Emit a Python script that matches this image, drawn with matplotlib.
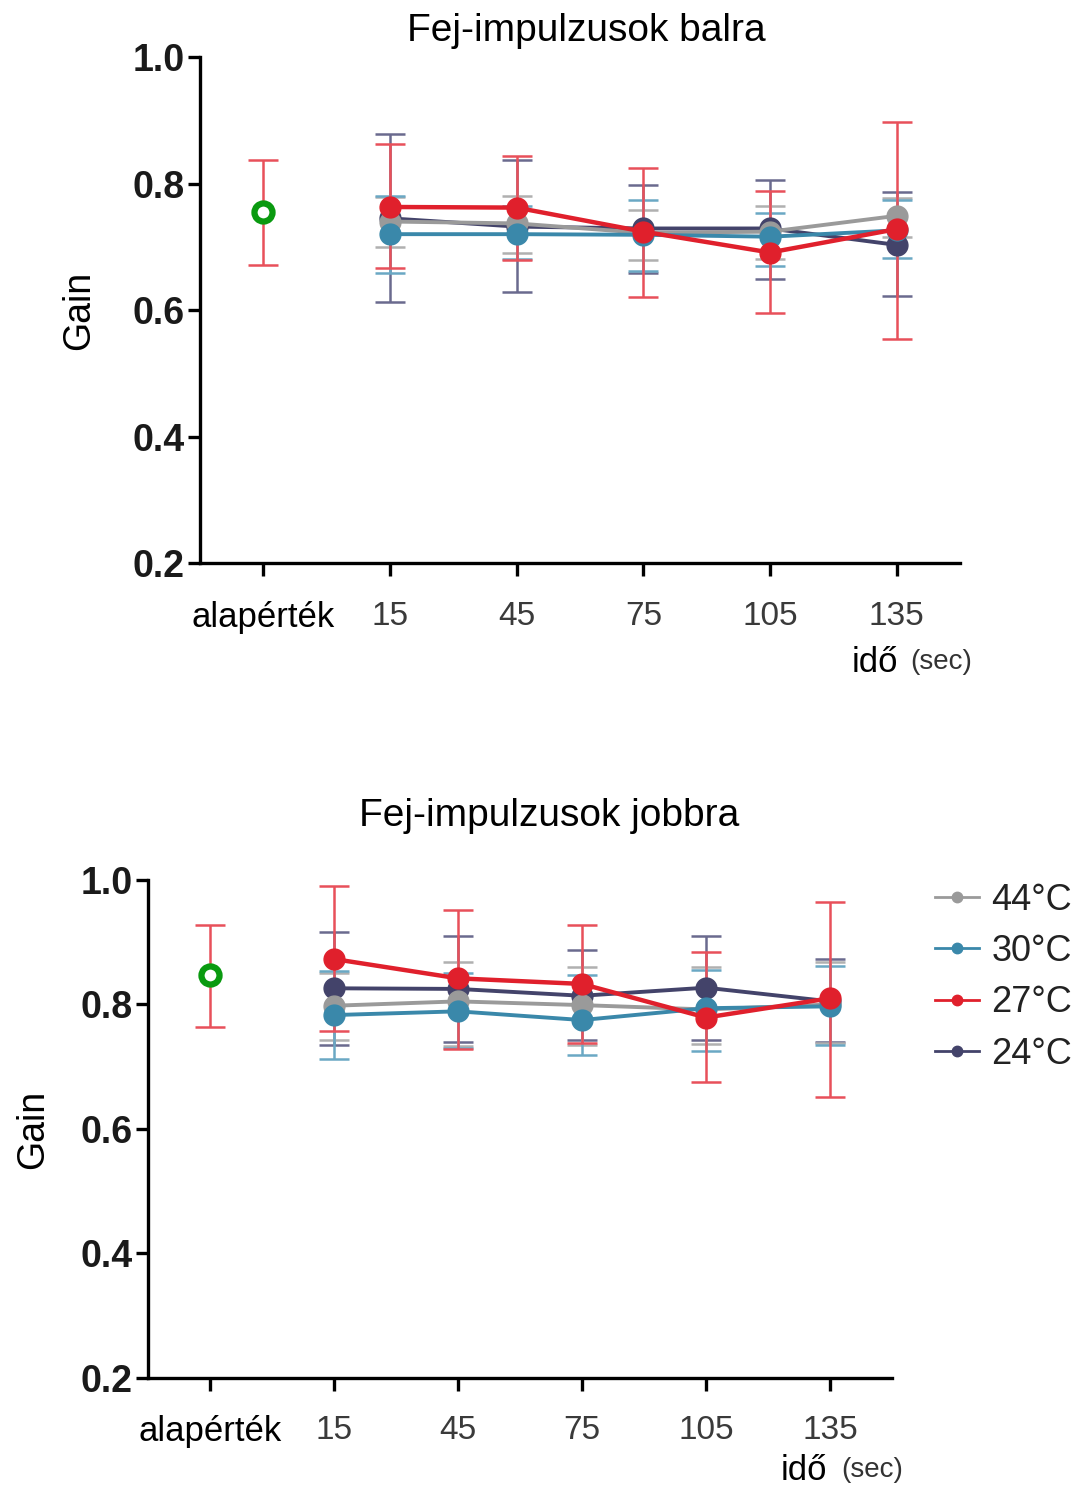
#Gain of head impulses, left and right, at different temperatures

import numpy as np
import matplotlib
matplotlib.use('Agg')
import matplotlib.pyplot as plt

plt.rcParams['font.family'] = ['Liberation Sans', 'DejaVu Sans']

#Data

xlabels = ['alapérték', '15', '45', '75', '105', '135']
temps = ['44°C', '30°C', '27°C', '24°C']

base_top = 0.755
base_top_lo = 0.671
base_top_hi = 0.837

gray_top = [0.740, 0.737, 0.722, 0.724, 0.749]
gray_top_lo = [0.700, 0.690, 0.679, 0.680, 0.715]
gray_top_hi = [0.779, 0.780, 0.758, 0.765, 0.777]
blue_top = [0.720, 0.720, 0.719, 0.716, 0.726]
blue_top_lo = [0.659, 0.680, 0.661, 0.669, 0.682]
blue_top_hi = [0.780, 0.765, 0.774, 0.753, 0.774]
red_top = [0.763, 0.762, 0.724, 0.691, 0.728]
red_top_lo = [0.667, 0.679, 0.620, 0.596, 0.555]
red_top_hi = [0.862, 0.843, 0.824, 0.788, 0.898]
navy_top = [0.745, 0.732, 0.729, 0.729, 0.703]
navy_top_lo = [0.613, 0.629, 0.659, 0.649, 0.622]
navy_top_hi = [0.878, 0.837, 0.798, 0.806, 0.787]

base_bot = 0.847
base_bot_lo = 0.764
base_bot_hi = 0.928

gray_bot = [0.798, 0.805, 0.799, 0.792, 0.800]
gray_bot_lo = [0.743, 0.734, 0.735, 0.737, 0.738]
gray_bot_hi = [0.851, 0.869, 0.860, 0.860, 0.868]
blue_bot = [0.783, 0.789, 0.775, 0.794, 0.797]
blue_bot_lo = [0.713, 0.730, 0.719, 0.725, 0.735]
blue_bot_hi = [0.853, 0.850, 0.847, 0.855, 0.862]
red_bot = [0.873, 0.842, 0.833, 0.779, 0.810]
red_bot_lo = [0.757, 0.729, 0.738, 0.676, 0.651]
red_bot_hi = [0.990, 0.952, 0.928, 0.885, 0.965]
navy_bot = [0.826, 0.825, 0.814, 0.827, 0.805]
navy_bot_lo = [0.735, 0.740, 0.743, 0.743, 0.739]
navy_bot_hi = [0.916, 0.910, 0.887, 0.910, 0.873]

colors = {'44°C': '#9a9a9a', '30°C': '#3a88aa', '27°C': '#e0202c', '24°C': '#43436a'}
errcolors = {'44°C': '#b0b0b0', '30°C': '#6aa8c4', '27°C': '#e8505a', '24°C': '#6a6a8e'}

#Function drawing one panel

def panel(ax, base, blo, bhi, series):
    x = np.arange(1, 6)
    ax.errorbar([0], [base], yerr=[[base - blo], [bhi - base]], fmt='none',
                ecolor='#e8505a', elinewidth=1.8, capsize=11, capthick=1.8)
    ax.plot([0], [base], 'o', ms=13, mfc='white', mec='#0a9a10', mew=4.5)
    order = ['24°C', '44°C', '30°C', '27°C']
    for name in order:
        vals, lo, hi = series[name]
        vals = np.array(vals)
        ax.errorbar(x, vals, yerr=[vals - np.array(lo), np.array(hi) - vals], fmt='none',
                    ecolor=errcolors[name], elinewidth=1.8, capsize=11, capthick=1.8)
    for name in order:
        vals, lo, hi = series[name]
        lw = 3.2 if name == '27°C' else 2.8
        ax.plot(x, vals, '-o', color=colors[name], lw=lw, ms=15, label=name)
    ax.set_xlim(-0.5, 5.5)
    ax.set_ylim(0.2, 1.0)
    ax.set_yticks([0.2, 0.4, 0.6, 0.8, 1.0])
    ax.set_yticklabels(['0.2', '0.4', '0.6', '0.8', '1.0'], fontsize=27, fontweight='bold',
                       color='#1a1a1a')
    ax.set_xticks(range(6))
    ax.set_xticklabels(xlabels, fontsize=24, color='#3a3a3a')
    first = ax.get_xticklabels()[0]
    first.set_fontsize(25)
    first.set_color('black')
    ax.spines['top'].set_visible(False)
    ax.spines['right'].set_visible(False)
    ax.spines['left'].set_linewidth(2.4)
    ax.spines['bottom'].set_linewidth(2.4)
    ax.tick_params(width=2.4, length=9)
    ax.tick_params(axis='y', pad=2)
    ax.tick_params(axis='x', pad=18)
    ax.set_ylabel('Gain', fontsize=27)

fig = plt.figure(figsize=(10.84, 14.9), dpi=100)

#Top panel

ax1 = fig.add_axes([0.1845, 0.6221, 0.7011, 0.3396])
panel(ax1, base_top, base_top_lo, base_top_hi,
      {'44°C': (gray_top, gray_top_lo, gray_top_hi),
       '30°C': (blue_top, blue_top_lo, blue_top_hi),
       '27°C': (red_top, red_top_lo, red_top_hi),
       '24°C': (navy_top, navy_top_lo, navy_top_hi)})
ax1.yaxis.set_label_coords(-0.135, 0.5)
fig.text(0.541, 0.979, 'Fej-impulzusok balra', fontsize=28, ha='center', va='center')
fig.text(0.807, 0.5555, 'idő', fontsize=25, ha='center', va='center')
fig.text(0.868, 0.5555, '(sec)', fontsize=20, color='#333333', ha='center', va='center')

#Bottom panel

ax2 = fig.add_axes([0.1365, 0.0752, 0.6864, 0.3342])
panel(ax2, base_bot, base_bot_lo, base_bot_hi,
      {'44°C': (gray_bot, gray_bot_lo, gray_bot_hi),
       '30°C': (blue_bot, blue_bot_lo, blue_bot_hi),
       '27°C': (red_bot, red_bot_lo, red_bot_hi),
       '24°C': (navy_bot, navy_bot_lo, navy_bot_hi)})
ax2.yaxis.set_label_coords(-0.13, 0.5)
fig.text(0.507, 0.4525, 'Fej-impulzusok jobbra', fontsize=28, ha='center', va='center')
fig.text(0.742, 0.0128, 'idő', fontsize=25, ha='center', va='center')
fig.text(0.805, 0.0135, '(sec)', fontsize=20, color='#333333', ha='center', va='center')

handles, labels = ax2.get_legend_handles_labels()
hmap = dict(zip(labels, handles))
leg = fig.legend([hmap[t] for t in temps], temps, loc='upper left',
                 bbox_to_anchor=(0.843, 0.422), frameon=False, fontsize=26,
                 handlelength=1.2, handletextpad=0.35, labelspacing=0.45, markerscale=0.5,
                 borderaxespad=0.2)
for h in leg.legend_handles:
    h.set_linewidth(2)
for t in leg.get_texts():
    t.set_color('#222222')

fig.savefig('out.png', dpi=100)
